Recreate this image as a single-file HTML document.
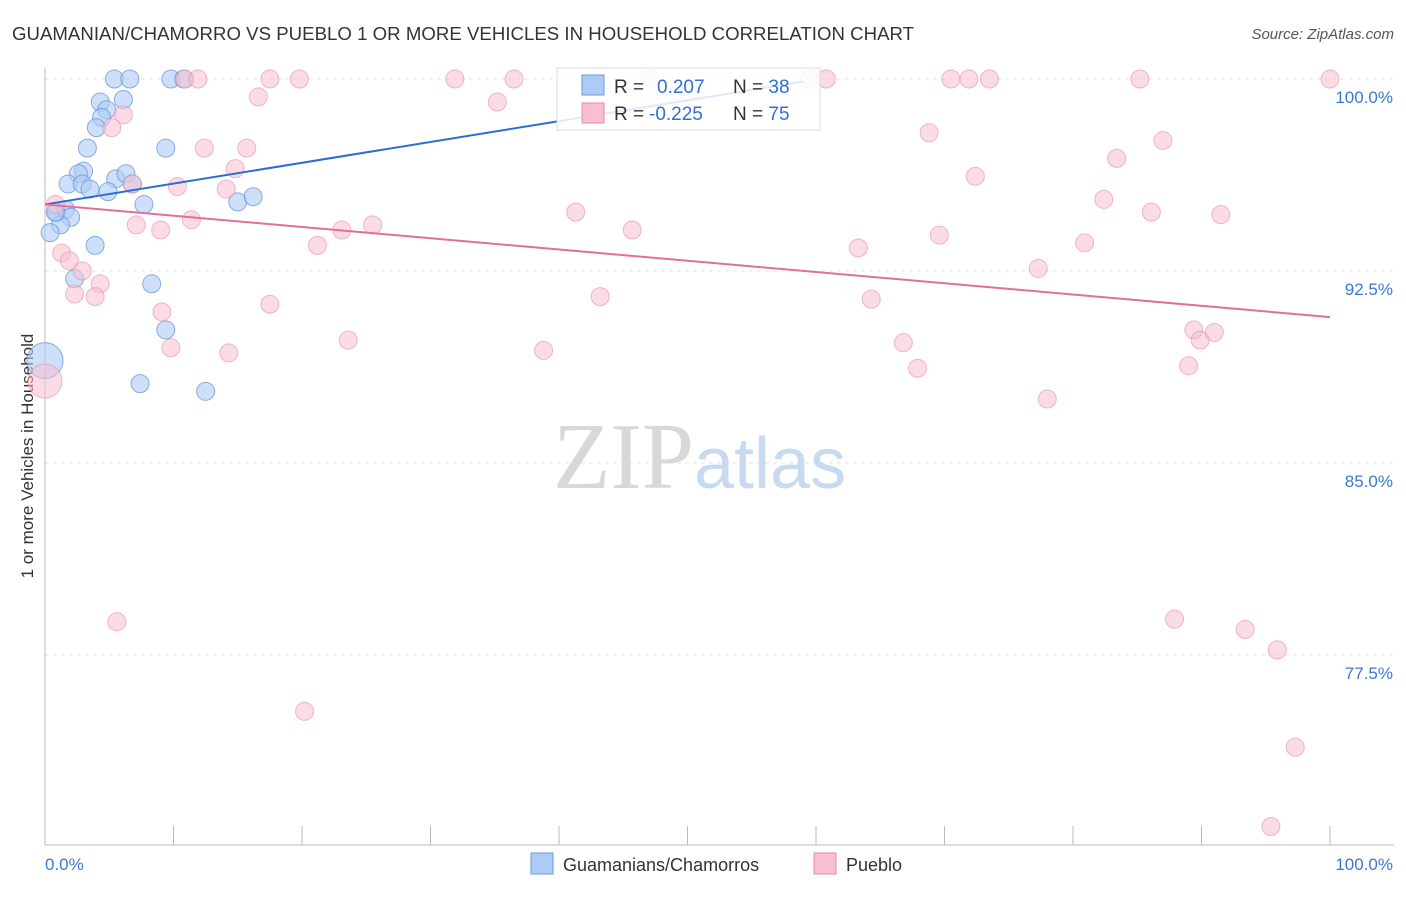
<!DOCTYPE html>
<html><head><meta charset="utf-8"><style>
body{margin:0;background:#fff;font-family:"Liberation Sans",sans-serif;}
svg text{font-family:"Liberation Sans",sans-serif;}
</style></head><body>
<svg id="c" width="1406" height="892">
<text x="12" y="40" font-size="18.6" fill="#333" textLength="902">GUAMANIAN/CHAMORRO VS PUEBLO 1 OR MORE VEHICLES IN HOUSEHOLD CORRELATION CHART</text>
<text x="1394" y="39" font-size="15" fill="#555" text-anchor="end" font-style="italic">Source: ZipAtlas.com</text>
<text x="33" y="456" font-size="17" fill="#333" text-anchor="middle" transform="rotate(-90 33 456)">1 or more Vehicles in Household</text>
<g id="grid"></g>
<text x="553" y="488" font-size="94" fill="#ddd" font-family="Liberation Serif"><tspan fill="#d8d8d8" font-family="Liberation Serif">ZIP</tspan><tspan fill="#c8daf0" font-family="Liberation Sans" font-size="72">atlas</tspan></text>
<g id="pts"></g>
<g id="lines"></g>
<g>
<rect x="557" y="68" width="263" height="62" fill="#fff" fill-opacity="0.85" stroke="#ddd"/>
<rect x="582" y="75" width="22" height="20" fill="#aecbf5" stroke="#6a9ae0"/>
<rect x="582" y="103" width="22" height="20" fill="#f7bfd0" stroke="#e88aa8"/>
<text x="614" y="93" font-size="19" fill="#333">R = <tspan fill="#3070d0" x="657">0.207</tspan><tspan fill="#333" x="733">N = </tspan><tspan fill="#3070d0">38</tspan></text>
<text x="614" y="120" font-size="19" fill="#333">R = <tspan fill="#3070d0" x="649">-0.225</tspan><tspan fill="#333" x="733">N = </tspan><tspan fill="#3070d0">75</tspan></text>
</g>
<g>
<rect x="531" y="853" width="22" height="21" fill="#aecbf5" stroke="#6a9ae0"/>
<text x="563" y="871" font-size="18" fill="#333">Guamanians/Chamorros</text>
<rect x="814" y="853" width="22" height="21" fill="#f7bfd0" stroke="#e88aa8"/>
<text x="846" y="871" font-size="18" fill="#333">Pueblo</text>
</g>
</svg>
<script>
const yTicks=[100,92.5,85,77.5];
const blueX=[5.4,6.6,9.8,10.8,4.3,6.1,4.8,4.4,4.0,3.3,9.4,3.0,2.6,1.8,2.9,5.5,6.3,6.8,4.9,3.5,7.7,15.0,16.2,0.9,1.6,2.0,1.2,0.8,0.4,3.9,2.3,8.3,9.4,0.0,7.4,12.5];
const blueY=[100,100,100,100,99.1,99.2,98.8,98.5,98.1,97.3,97.3,96.4,96.3,95.9,95.9,96.1,96.3,95.9,95.6,95.7,95.1,95.2,95.4,94.8,94.9,94.6,94.3,94.8,94.0,93.5,92.2,92.0,90.2,89.0,88.1,87.8];
const blueR=[9,9,9,9,9,9,9,9,9,9,9,9,9,9,9,9,9,9,9,9,9,9,9,9,9,9,9,9,9,9,9,9,9,18,9,9];
const pinkX=[10.9,11.9,17.5,19.8,31.9,36.5,47.1,59.5,60.8,70.5,71.9,73.5,85.2,100,16.6,35.2,6.1,5.2,12.4,15.7,14.8,10.3,14.1,6.8,0.8,7.1,9.0,11.4,23.1,25.5,41.3,45.7,21.2,1.3,1.9,2.9,4.3,2.3,3.9,17.5,9.1,9.8,14.3,23.6,38.8,43.2,63.3,64.3,66.8,67.9,69.6,68.8,72.4,77.3,78.0,80.9,82.4,83.4,86.1,87.0,91.5,89.4,89.9,91.0,89.0,0.0,5.6,20.2,87.9,93.4,95.9,97.3,95.4];
const pinkY=[100,100,100,100,100,100,100,100,100,100,100,100,100,100,99.3,99.1,98.6,98.1,97.3,97.3,96.5,95.8,95.7,95.9,95.1,94.3,94.1,94.5,94.1,94.3,94.8,94.1,93.5,93.2,92.9,92.5,92.0,91.6,91.5,91.2,90.9,89.5,89.3,89.8,89.4,91.5,93.4,91.4,89.7,88.7,93.9,97.9,96.2,92.6,87.5,93.6,95.3,96.9,94.8,97.6,94.7,90.2,89.8,90.1,88.8,88.2,78.8,75.3,78.9,78.5,77.7,73.9,70.8];
const blueTrend=[0,95.1,59,99.9];
const pinkTrend=[0,95.1,100,90.7];
const X=v=>45+v*12.85, Y=v=>79+(100-v)*25.6;
const NS="http://www.w3.org/2000/svg";
function mk(t,a,p){const e=document.createElementNS(NS,t);for(const k in a)e.setAttribute(k,a[k]);p.appendChild(e);return e;}
const g=document.getElementById('grid');
yTicks.forEach(v=>{
 const l=mk('line',{x1:45,x2:1394,y1:Y(v),y2:Y(v),stroke:'#e3e3e3','stroke-dasharray':'4,4'},g);
 
 
 const t=mk('text',{x:1393,y:Y(v)+24,'font-size':17,fill:'#3a78d6','text-anchor':'end'},g);t.textContent=v.toFixed(1)+'%';
 
 
});
mk('line',{x1:45,x2:45,y1:68,y2:845,stroke:'#bbb'},g);
mk('line',{x1:45,x2:1394,y1:845,y2:845,stroke:'#bbb'},g);
for(let i=0;i<=10;i++){mk('line',{x1:X(i*10),x2:X(i*10),y1:826,y2:845,stroke:'#bbb'},g);}
let t=mk('text',{x:45,y:870,'font-size':17,fill:'#3a78d6'},g);t.textContent='0.0%';

t=mk('text',{x:1393,y:870,'font-size':17,fill:'#3a78d6','text-anchor':'end'},g);t.textContent='100.0%';

const p=document.getElementById('pts');
blueX.forEach((x,i)=>{const c=mk('circle',{cx:X(x),cy:Y(blueY[i]),r:blueR[i],fill:'#aecbf5','fill-opacity':0.6,stroke:'#5b8fd8','stroke-opacity':0.7},p);
 
 });
pinkX.forEach((x,i)=>{const c=mk('circle',{cx:X(x),cy:Y(pinkY[i]),r:i==65?17:9,fill:'#f7bfd0','fill-opacity':0.55,stroke:'#e88aa8','stroke-opacity':0.6},p);
 
 });
const L=document.getElementById('lines');
let a=mk('line',{x1:X(blueTrend[0]),y1:Y(blueTrend[1]),x2:X(blueTrend[2]),y2:Y(blueTrend[3]),stroke:'#2a6fd4','stroke-width':2},L);

a=mk('line',{x1:X(pinkTrend[0]),y1:Y(pinkTrend[1]),x2:X(pinkTrend[2]),y2:Y(pinkTrend[3]),stroke:'#e0709a','stroke-width':2},L);

</script>
</body></html>
